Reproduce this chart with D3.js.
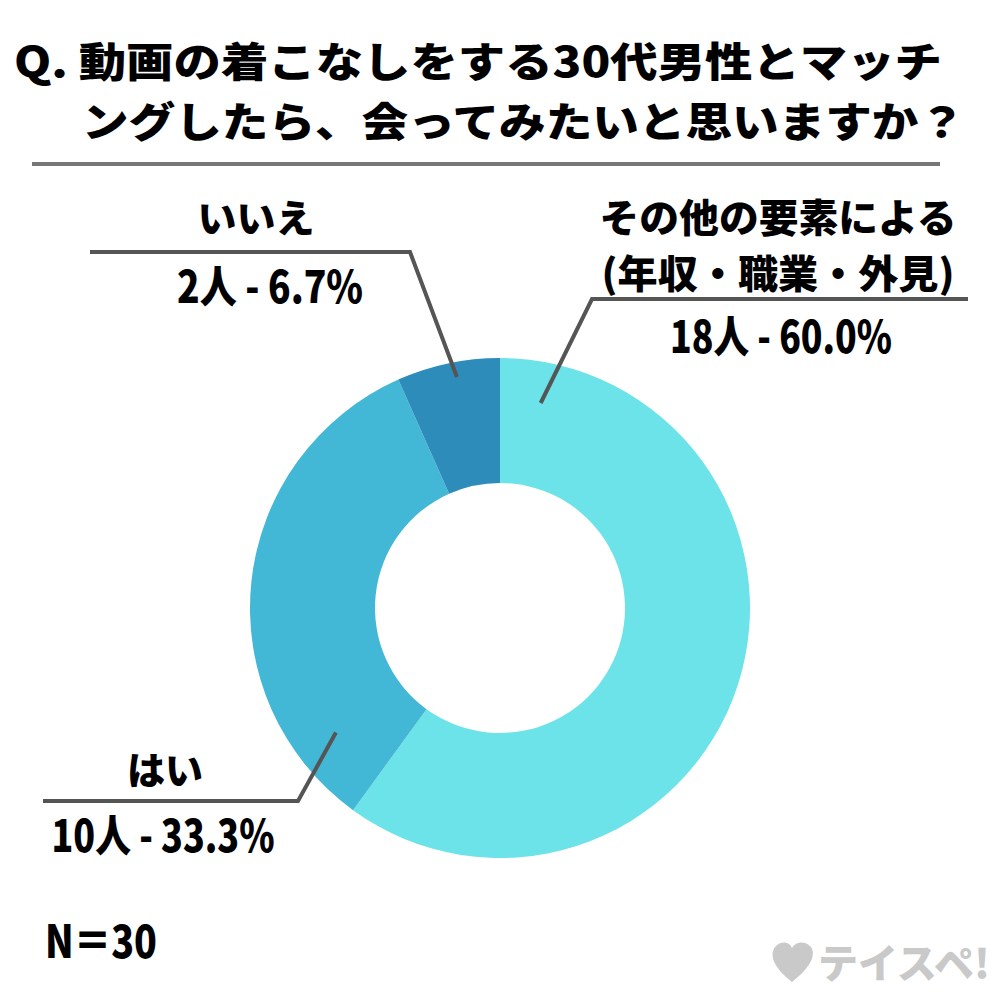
<!DOCTYPE html>
<html><head><meta charset="utf-8">
<script src="https://cdn.jsdelivr.net/npm/d3@7"></script>
<style>body{margin:0;background:#fff}svg{display:block}</style>
</head><body>
<script>
const categories = ["その他の要素による（年収・職業・外見）", "はい", "いいえ"];
const counts = [18, 10, 2];
const percents = ["60.0%", "33.3%", "6.7%"];
const colors = ["#6be3e8", "#43b7d6", "#2e8cbb"];
const titleLines = ["Q. 動画の着こなしをする30代男性とマッチ", "ングしたら、会ってみたいと思いますか？"];
const nLabel = "N＝30";

const W = 1000, H = 1000;
const svg = d3.select("body").append("svg").attr("width", W).attr("height", H);
const FONT = "'Noto Sans CJK JP','Noto Sans',sans-serif";

// title
const titlePos = [{x: 14, y: 77, len: 928}, {x: 82, y: 137, len: 883}];
titleLines.forEach((t, i) => {
  svg.append("text").attr("font-family", FONT).attr("font-weight", 900).attr("font-size", 41)
    .attr("x", titlePos[i].x).attr("y", titlePos[i].y)
    .attr("textLength", titlePos[i].len).attr("lengthAdjust", "spacingAndGlyphs").text(t);
});
svg.append("line").attr("x1", 32).attr("x2", 940).attr("y1", 164).attr("y2", 164)
  .attr("stroke", "#777").attr("stroke-width", 4);

// donut
const cx = 500, cy = 608, rO = 250, rI = 125;
const pie = d3.pie().sort(null).value(d => d);
const arcs = pie(counts);
const arc = d3.arc().innerRadius(rI).outerRadius(rO);
const g = svg.append("g").attr("transform", `translate(${cx},${cy})`);
g.selectAll("path").data(arcs).enter().append("path").attr("d", arc).attr("fill", (d, i) => colors[i]);

// leader lines (anchor point within each slice: fraction of slice angle, radius)
const anchors = [
  {frac: 0.052, r: 209, elbow: [592, 299], end: [968, 299]},
  {frac: 0.14, r: 206, elbow: [298, 801], end: [43, 801]},
  {frac: 0.56, r: 235, elbow: [410, 252], end: [90, 252]}
];
arcs.forEach((a, i) => {
  const an = anchors[i];
  const ang = a.startAngle + (a.endAngle - a.startAngle) * an.frac;
  const px = cx + an.r * Math.sin(ang), py = cy - an.r * Math.cos(ang);
  svg.append("polyline").attr("points", `${px},${py} ${an.elbow[0]},${an.elbow[1]} ${an.end[0]},${an.end[1]}`)
    .attr("fill", "none").attr("stroke", "#555").attr("stroke-width", 4).attr("stroke-linejoin", "miter");
});

function label(x, y, txt, size, len) {
  const t = svg.append("text").attr("x", x).attr("y", y).attr("font-family", FONT).attr("font-weight", 900)
    .attr("font-size", size).attr("text-anchor", "middle").text(txt);
  if (len) t.attr("textLength", len).attr("lengthAdjust", "spacingAndGlyphs");
  return t;
}
// その他
label(778, 232, "その他の要素による", 39, 357);
label(778, 288, "(年収・職業・外見)", 39, 353);
label(781, 353, `${counts[0]}人 - ${percents[0]}`, 44, 222);
// はい
label(165, 784, "はい", 38, 76);
label(163, 852, `${counts[1]}人 - ${percents[1]}`, 44, 223);
// いいえ
label(256, 232, "いいえ", 38, 117);
label(270, 303, `${counts[2]}人 - ${percents[2]}`, 44, 186);

// N
svg.append("text").attr("x", 45).attr("y", 958).attr("font-family", FONT).attr("font-weight", 900)
  .attr("font-size", 45).attr("textLength", 112).attr("lengthAdjust", "spacingAndGlyphs").text(nLabel);

// watermark
const wm = svg.append("g").attr("fill", "#c9c9c9");
wm.append("path").attr("d", "M792,982 C770,965 770,952 776,946 C782,940 790,942 792,948 C795,942 804,940 810,946 C816,952 814,965 792,982 Z");
wm.append("text").attr("x", 818).attr("y", 978).attr("font-family", FONT).attr("font-weight", 900)
  .attr("font-size", 40).attr("textLength", 172).attr("lengthAdjust", "spacingAndGlyphs").text("テイスペ!");
</script>
</body></html>
